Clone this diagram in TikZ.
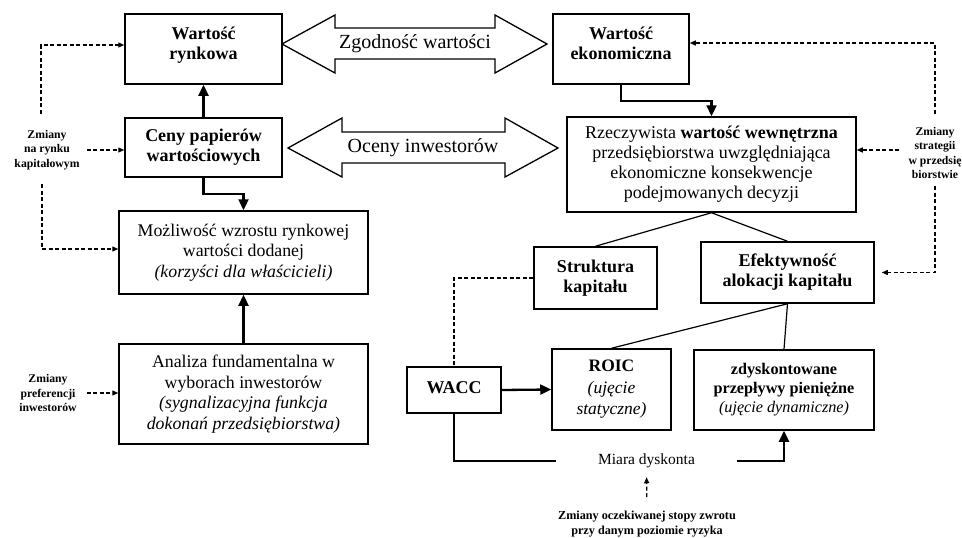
\documentclass[tikz,border=0pt]{standalone}
\usepackage{fontspec}
\setmainfont{Liberation Serif}
\usetikzlibrary{arrows.meta}
\newcommand\lowpad[1]{\rule[-#1]{0pt}{#1}}
\begin{document}
\begin{tikzpicture}[x=1pt,y=-1pt,
  boxr/.style={draw, line width=1.5pt, align=center, inner sep=2pt, font=\fontsize{17.8}{20.5}\selectfont},
  boxb/.style={boxr, font=\bfseries\fontsize{18}{20}\selectfont},
  lbl/.style={align=center, inner sep=0pt, font=\bfseries\fontsize{11.7}{14.5}\selectfont},
  bigarr/.style={draw, line width=1.3pt, line join=miter},
  bigtxt/.style={font=\fontsize{20}{24}\selectfont, inner sep=0pt},
  solidarr/.style={line width=2.3pt, -{Triangle[length=11pt,width=10pt]}},
  solidln/.style={line width=2.3pt},
  thinln/.style={line width=1.2pt},
  dasharr/.style={line width=1.3pt, dash pattern=on 4pt off 2.5pt, -{Triangle[length=6pt,width=5pt]}},
  dashln/.style={line width=1.3pt, dash pattern=on 4pt off 2.5pt},
]
\useasboundingbox[fill=white] (0,0) rectangle (962,538);

% boxes
\node[boxb, minimum width=157pt, minimum height=70pt] (wr) at (203.5,49) {Wartość\\rynkowa\lowpad{12pt}};
\node[boxb, minimum width=157pt, minimum height=59pt] (cp) at (203.5,147.5) {Ceny papierów\\wartościowych};
\node[boxr, minimum width=249pt, minimum height=83pt] (mw) at (243.5,252.5) {Możliwość wzrostu rynkowej\\wartości dodanej\\\textit{(korzyści dla właścicieli)}};
\node[boxr, minimum width=249pt, minimum height=100pt] (af) at (243.5,394) {Analiza fundamentalna w\\wyborach inwestorów\\\textit{(sygnalizacyjna funkcja}\\\textit{dokonań przedsiębiorstwa)}};
\node[boxb, minimum width=136pt, minimum height=70pt] (we) at (621,49) {Wartość\\ekonomiczna\lowpad{12pt}};
\node[boxr, font=\fontsize{18}{20}\selectfont, minimum width=289pt, minimum height=95pt] (rw) at (711.5,164.5) {Rzeczywista \textbf{wartość wewnętrzna}\\przedsiębiorstwa uwzględniająca\\ekonomiczne konsekwencje\\podejmowanych decyzji};
\node[boxb, minimum width=123pt, minimum height=62pt] (sk) at (595.5,278) {Struktura\\kapitału};
\node[boxb, minimum width=173pt, minimum height=61pt] (ef) at (787.5,272.5) {Efektywność\\alokacji kapitału};
\node[boxr, font=\fontsize{17.5}{21.5}\selectfont, minimum width=119pt, minimum height=81pt] (roic) at (611.5,389.5) {\textbf{ROIC}\\\textit{(ujęcie}\\\textit{statyczne)}};
\node[boxr, font=\fontsize{16.2}{19}\selectfont, minimum width=180pt, minimum height=80pt] (zd) at (784,390) {\textbf{zdyskontowane}\\\textbf{przepływy pieniężne}\\\textit{(ujęcie dynamiczne)}\lowpad{4pt}};
\node[boxb, minimum width=94pt, minimum height=46pt] (wacc) at (454,390) {WACC\lowpad{4pt}};
\node[inner sep=0pt, minimum width=181pt, font=\fontsize{15.5}{18}\selectfont] (md) at (646.5,461) {Miara dyskonta};

% labels
\node[lbl] (zr) at (47,150) {Zmiany\\na rynku\\kapitałowym};
\node[lbl] (zs) at (935,153) {Zmiany\\strategii\\w przedsię\\biorstwie};
\node[lbl] (zp) at (48,393) {Zmiany\\preferencji\\inwestorów};
\node[lbl, font=\bfseries\fontsize{12.2}{14.5}\selectfont] (zo) at (647,524) {Zmiany oczekiwanej stopy zwrotu\\przy danym poziomie ryzyka};

% hollow double arrows
\draw[bigarr] (282,44) -- (335,15) -- (335,28) -- (495,28) -- (495,15) -- (547,44) -- (495,73) -- (495,59) -- (335,59) -- (335,73) -- cycle;
\node[bigtxt] (zg) at (415,44) {Zgodność wartości};
\draw[bigarr] (288,148) -- (342,118) -- (342,132) -- (505,132) -- (505,118) -- (558,148) -- (505,177) -- (505,163) -- (342,163) -- (342,177) -- cycle;
\node[bigtxt] (oi) at (423,148) {Oceny inwestorów};

% solid connectors
\draw[solidarr] (cp.north) -- (wr.south);
\draw[solidarr] (cp.south) -- ++(0,16) -| (mw.north);
\draw[solidarr] (af.north) -- (mw.south);
\draw[solidarr] (we.south) -- ++(0,16) -| (rw.north);
\draw[thinln] (rw.south) -- (sk.north);
\draw[thinln] (rw.south) -- (ef.north);
\draw[thinln] (ef.south) -- (roic.north);
\draw[thinln] (ef.south) -- (zd.north);
\draw[solidarr] (wacc.east) -- (roic.west);
\draw[dashln] (sk.west) -| (wacc.north);
\draw[solidln] (wacc.south) |- (md.west);
\draw[solidarr] (md.east) -| (zd.south);
\draw[dasharr, shorten <=14pt, shorten >=9pt] (zo.north) -- (md.south);

% dashed influences
\draw[dasharr, shorten <=16pt] ([xshift=-6pt]zr.north) |- ([yshift=4pt]wr.west);
\draw[dasharr, shorten <=7pt] (zr.east) -- (zr.east -| cp.west);
\draw[dasharr, shorten <=14pt] ([xshift=-5pt]zr.south) |- ([yshift=3.5pt]mw.west);
\draw[dasharr, shorten <=10pt] (zp.east) -- (zp.east -| af.west);
\draw[dasharr, shorten <=13pt] (zs.north) |- ([yshift=6pt]we.east);
\draw[dasharr, shorten <=9pt] ([yshift=3pt]zs.west) -- ([yshift=3pt]zs.west -| rw.east);
\draw[dasharr, shorten <=7pt, shorten >=7pt] (zs.south) |- (ef.east);
\end{tikzpicture}
\end{document}
